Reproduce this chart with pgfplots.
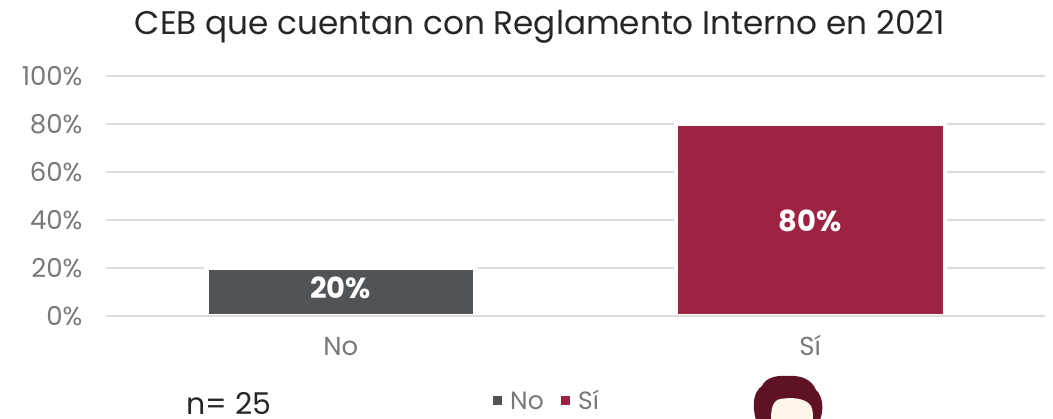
\documentclass[border=0pt]{standalone}
\usepackage{pgfplots}
\pgfplotsset{compat=1.18}
\usepackage{fontspec}
\setmainfont{Poppins}
\definecolor{cno}{HTML}{505457}
\definecolor{csi}{HTML}{9E2241}
\definecolor{gridc}{HTML}{DDDDDD}
\definecolor{tickc}{HTML}{76797C}
\definecolor{hair}{HTML}{5E1224}
\definecolor{skin}{HTML}{FBF5EA}
\begin{document}
\begin{tikzpicture}[x=1pt,y=1pt]
\path[use as bounding box,clip] (0,0) rectangle (1053,418);
\begin{axis}[
  at={(106pt,102pt)},anchor=south west,
  scale only axis,width=939pt,height=240pt,
  xmin=-0.5,xmax=1.5,ymin=0,ymax=100,
  axis line style={draw=none},
  tick style={draw=none},
  /pgf/number format/assume math mode=true,
  xtick={0,1},xticklabels={No,Sí},
  ytick={0,20,40,60,80,100},
  yticklabels={0\%,20\%,40\%,60\%,80\%,100\%},
  ymajorgrids,
  grid style={gridc,line width=1.6pt},
  ticklabel style={font=\fontsize{26}{28}\selectfont,text=tickc},
  yticklabel style={xshift=-20pt},
  xticklabel style={yshift=-16pt,text height=20pt,text depth=0pt},
  clip=false,
  nodes near coords={\pgfmathprintnumber{\pgfplotspointmeta}\%},
  every node near coord/.append style={anchor=center,font=\fontsize{29}{31}\selectfont\bfseries,text=white},
]
\addplot[ybar,bar width=269pt,bar shift=0pt,fill=cno,draw=white,line width=4.5pt,
  every node near coord/.append style={yshift=-20pt}] coordinates {(0,20)};
\addplot[ybar,bar width=269pt,bar shift=0pt,fill=csi,draw=white,line width=4.5pt,
  every node near coord/.append style={yshift=-97pt}] coordinates {(1,80)};
\addplot[gridc,line width=1.6pt,sharp plot,nodes near coords={}] coordinates {(-0.5,0) (1.5,0)};
\end{axis}
\node[anchor=center,font=\fontsize{32.7}{34}\selectfont,text=black!85] at (540,391) {CEB que cuentan con Reglamento Interno en 2021};
\node[anchor=base west,inner sep=0pt,font=\fontsize{30}{32}\selectfont,text=black!85] at (186,3) {n= 25};
\fill[cno] (493,13) rectangle (502,22);
\node[anchor=base west,inner sep=0pt,font=\fontsize{25}{27}\selectfont,text=tickc] at (510,9) {No};
\fill[csi] (561,13) rectangle (570,22);
\node[anchor=base west,inner sep=0pt,font=\fontsize{25}{27}\selectfont,text=tickc] at (578,9) {Sí};
\fill[hair] (756,-2) .. controls (752,12) and (753,26) .. (762,32) .. controls (766,41) and (778,43) .. (788,42) .. controls (802,43) and (812,38) .. (816,28) .. controls (823,22) and (824,8) .. (820,-2) -- cycle;
\fill[skin] (771,-2) .. controls (771,8) and (772,17) .. (780,19) .. controls (792,21) and (806,20) .. (811,12) .. controls (813,8) and (813,3) .. (813,-2) -- cycle;
\end{tikzpicture}
\end{document}
